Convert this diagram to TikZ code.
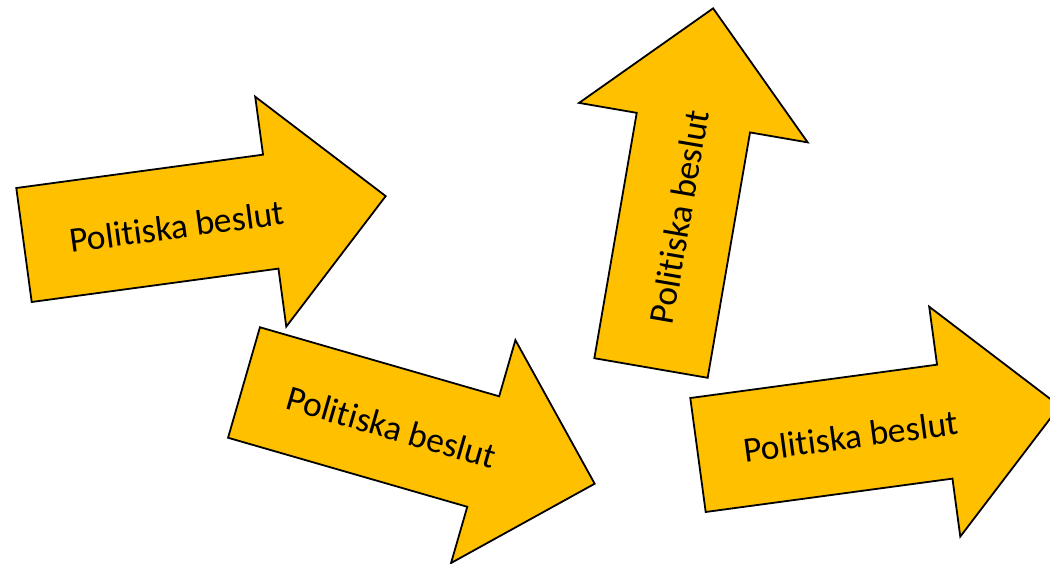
\documentclass[tikz,border=0pt]{standalone}
\usepackage{fontspec}
\setmainfont{Carlito}[Ligatures=NoCommon]

\definecolor{pilgul}{RGB}{255,192,0}

\begin{document}
\begin{tikzpicture}[x=1pt, y=-1pt,
    pil/.style={draw=black, fill=pilgul, line width=1.8pt, line join=miter},
    etikett/.style={font=\fontsize{35.5}{42}\selectfont, inner sep=0pt, transform shape}]
    \useasboundingbox (0,0) rectangle (1050,563);

    % block arrows: name / tail midpoint / direction
    \foreach \n/\px/\py/\vinkel in {a/24/245/7.7, b/244/382.5/-16.1, c/651/368/80.2, d/698/455/7.7} {
        \begin{scope}[shift={(\px,\py)}, rotate=\vinkel]
            \draw[pil] (0,-57.5) -- (249,-57.5) -- (249,-116) -- (365,0)
                -- (249,116) -- (249,57.5) -- (0,57.5) -- cycle;
            \node[etikett] (beslut\n) at (154,2) {Politiska beslut};
        \end{scope}
    }
\end{tikzpicture}
\end{document}
